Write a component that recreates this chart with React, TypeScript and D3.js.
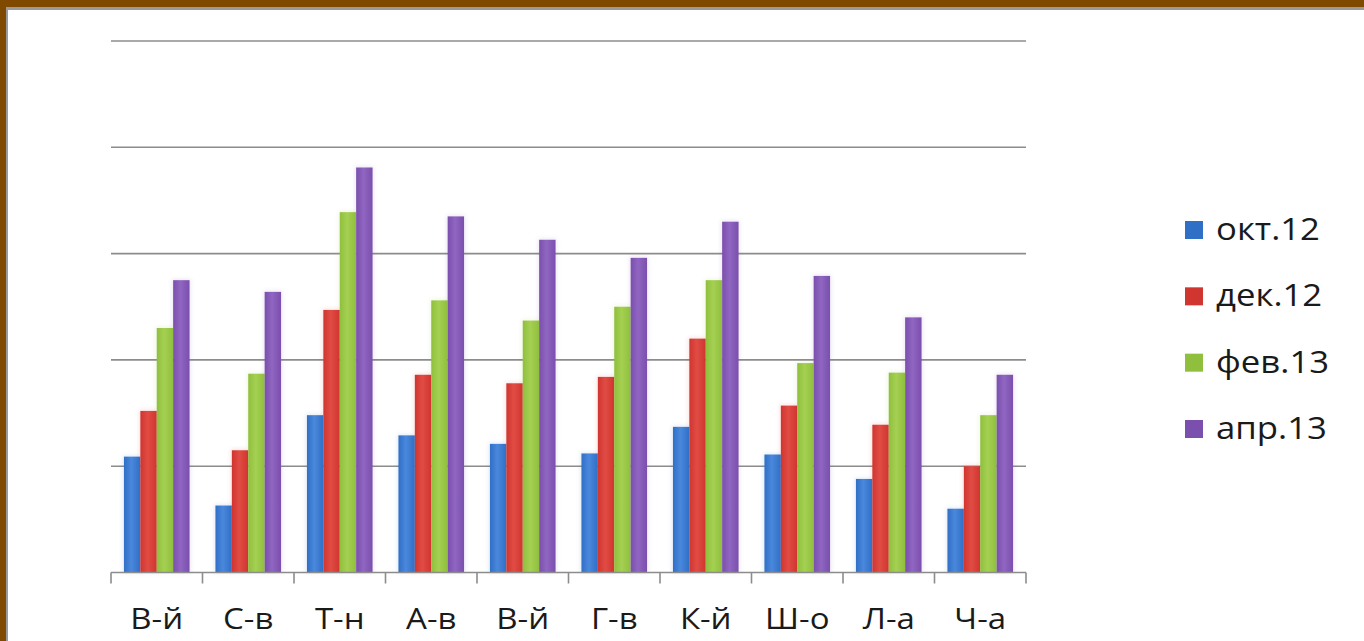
import React from "react";
import * as d3 from "d3";

const categories = ["В-й", "С-в", "Т-н", "А-в", "В-й ", "Г-в", "К-й", "Ш-о", "Л-а", "Ч-а"];
const seriesNames = ["окт.12", "дек.12", "фев.13", "апр.13"];
const okt12 = [10.9, 6.3, 14.8, 12.9, 12.1, 11.2, 13.7, 11.1, 8.8, 6.0];
const dek12 = [15.2, 11.5, 24.7, 18.6, 17.8, 18.4, 22.0, 15.7, 13.9, 10.0];
const fev13 = [23.0, 18.7, 33.9, 25.6, 23.7, 25.0, 27.5, 19.7, 18.8, 14.8];
const apr13 = [27.5, 26.4, 38.1, 33.5, 31.3, 29.6, 33.0, 27.9, 24.0, 18.6];
const yTicks = [0, 10, 20, 30, 40, 50];
const colors = ["#2f6fc6", "#d0352f", "#8fbf3c", "#7a4fad"];
const colorsLight = ["#4a88dc", "#e04c44", "#a5d052", "#9066c2"];

const W = 1364;
const H = 641;
const margin = { left: 111, right: 338, top: 41, bottom: 68.5 };

export default function App() {
  const series = [okt12, dek12, fev13, apr13];
  const x0 = d3
    .scaleBand<string>()
    .domain(categories)
    .range([margin.left, W - margin.right])
    .padding(0);
  const bw = x0.bandwidth();
  const gap = bw * 0.1415;
  const x1 = d3
    .scaleBand<string>()
    .domain(seriesNames)
    .range([gap, bw - gap])
    .padding(0);
  const y = d3
    .scaleLinear()
    .domain([0, 50])
    .range([H - margin.bottom, margin.top]);
  const base = y(0);
  const boundaries = d3.range(categories.length + 1).map((i) => margin.left + i * bw);
  const legendY = d3.scalePoint<string>().domain(seriesNames).range([229, 428]);
  const font = "'Open Sans', 'DejaVu Sans', sans-serif";

  return (
    <div>
      <style>{`body{margin:0;background:#fff}`}</style>
      <svg width={W} height={H} style={{ display: "block" }}>
        <defs>
          {colors.map((c, i) => (
            <linearGradient key={i} id={`g${i}`} x1="0" x2="1" y1="0" y2="0">
              <stop offset="0" stopColor={c} />
              <stop offset="0.45" stopColor={colorsLight[i]} />
              <stop offset="1" stopColor={c} />
            </linearGradient>
          ))}
          <filter id="glow" x="-50%" y="-10%" width="200%" height="120%">
            <feGaussianBlur stdDeviation="2" />
          </filter>
        </defs>
        <rect x={0} y={0} width={W} height={H} fill="#ffffff" />
        {/* gridlines */}
        {yTicks.slice(1).map((t) => (
          <line
            key={t}
            x1={margin.left}
            x2={W - margin.right}
            y1={y(t)}
            y2={y(t)}
            stroke="#8c8c8c"
            strokeWidth={1.6}
          />
        ))}
        {/* bars */}
        {categories.map((c, ci) => (
          <g key={ci} transform={`translate(${x0(c)},0)`}>
            {series.map((s, si) => (
              <rect
                key={`s${si}`}
                x={(x1(seriesNames[si]) as number) - 1}
                y={y(s[ci]) - 1}
                width={x1.bandwidth() + 2}
                height={base - y(s[ci]) + 1}
                fill={colors[si]}
                opacity={0.15}
                filter="url(#glow)"
              />
            ))}
            {series.map((s, si) => (
              <rect
                key={si}
                x={x1(seriesNames[si])}
                y={y(s[ci])}
                width={x1.bandwidth()}
                height={base - y(s[ci])}
                fill={`url(#g${si})`}
              />
            ))}
          </g>
        ))}
        {/* axis */}
        <line x1={margin.left} x2={W - margin.right} y1={base} y2={base} stroke="#8c8c8c" strokeWidth={1.6} />
        {boundaries.map((bx, i) => (
          <line key={i} x1={bx} x2={bx} y1={base} y2={base + 11} stroke="#8c8c8c" strokeWidth={1.6} />
        ))}
        {categories.map((c, ci) => {
          const cx = (x0(c) as number) + bw / 2;
          return (
            <g key={ci} transform={`translate(${cx},629) scale(1.1,1)`}>
              <text x={0} y={0} textAnchor="middle" fontFamily={font} fontSize={30} fill="#1a1a1a">
                {c.trim()}
              </text>
            </g>
          );
        })}
        {/* legend */}
        {seriesNames.map((n, i) => (
          <g key={n} transform={`translate(0,${legendY(n)})`}>
            <rect x={1185} y={-8} width={18} height={18} fill={colors[i]} />
            <g transform="translate(1216,11) scale(1.12,1)">
              <text x={0} y={0} fontFamily={font} fontSize={31} fill="#1a1a1a">
                {n}
              </text>
            </g>
          </g>
        ))}
        {/* frame */}
        <rect x={0} y={0} width={W} height={7} fill="#7f4a00" />
        <rect x={0} y={0} width={6} height={H} fill="#7f4a00" />
        <rect x={6} y={7} width={W - 6} height={3} fill="#9a9a9a" />
        <rect x={6} y={7} width={2} height={H - 7} fill="#9a9a9a" />
      </svg>
    </div>
  );
}
